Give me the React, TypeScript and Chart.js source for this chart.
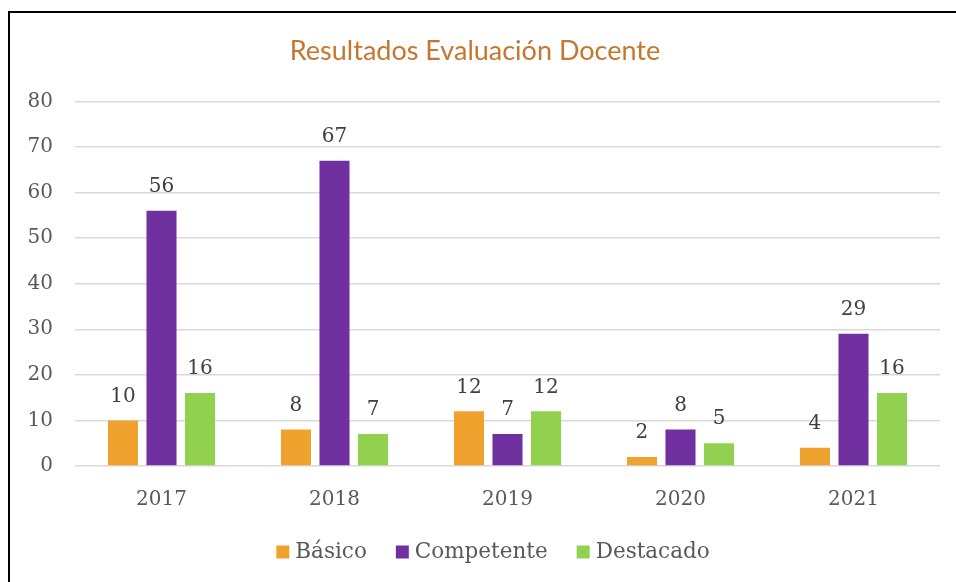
import React, { useEffect, useRef } from "react";
import { Chart, registerables } from "chart.js";

Chart.register(...registerables);

const categories = ["2017", "2018", "2019", "2020", "2021"];
const basico = [10, 8, 12, 2, 4];
const competente = [56, 67, 7, 8, 29];
const destacado = [16, 7, 12, 5, 16];
const seriesNames = ["Básico", "Competente", "Destacado"];
const seriesColors = ["#F0A22E", "#7030A0", "#92D050"];
const titleText = "Resultados Evaluación Docente";

const SERIF = "'DejaVu Serif', 'Liberation Serif', serif";
const FS = 20;

const valueLabels = {
  id: "valueLabels",
  afterDatasetsDraw(chart: any) {
    const ctx = chart.ctx;
    ctx.save();
    ctx.font = `${FS}px ${SERIF}`;
    ctx.fillStyle = "#404040";
    ctx.textAlign = "center";
    ctx.textBaseline = "middle";
    chart.data.datasets.forEach((ds: any, i: number) => {
      const meta = chart.getDatasetMeta(i);
      meta.data.forEach((el: any, j: number) => {
        ctx.fillText(String(ds.data[j]), el.x, el.y - 24);
      });
    });
    ctx.restore();
  },
};

const bottomLegend = {
  id: "bottomLegend",
  afterDraw(chart: any) {
    const ctx = chart.ctx;
    ctx.save();
    ctx.font = `21.5px ${SERIF}`;
    ctx.textBaseline = "middle";
    ctx.textAlign = "left";
    const box = 13;
    const gapBoxText = 6;
    const gapItems = 29;
    const items = chart.data.datasets.map((ds: any) => ({
      label: ds.label,
      color: ds.backgroundColor,
      w: ctx.measureText(ds.label).width,
    }));
    const total =
      items.reduce((s: number, it: any) => s + box + gapBoxText + it.w, 0) +
      gapItems * (items.length - 1);
    let x = chart.width / 2 + 10 - total / 2;
    const y = chart.height - 30;
    items.forEach((it: any) => {
      ctx.fillStyle = it.color;
      ctx.fillRect(x, y - box / 2, box, box);
      x += box + gapBoxText;
      ctx.fillStyle = "#595959";
      ctx.fillText(it.label, x, y);
      x += it.w + gapItems;
    });
    ctx.restore();
  },
};

export default function App() {
  const ref = useRef<HTMLCanvasElement | null>(null);
  useEffect(() => {
    if (!ref.current) return;
    const data = [basico, competente, destacado];
    const chart = new Chart(ref.current, {
      type: "bar",
      data: {
        labels: categories,
        datasets: seriesNames.map((n, i) => ({
          label: n,
          data: data[i],
          backgroundColor: seriesColors[i],
          borderWidth: 0,
          barPercentage: 0.78,
          categoryPercentage: 0.668,
        })),
      },
      options: {
        animation: false,
        responsive: false,
        maintainAspectRatio: false,
        layout: { padding: { top: 22, right: 16, bottom: 56, left: 0 } },
        plugins: {
          title: {
            display: true,
            text: titleText,
            color: "#C5772F",
            font: { family: "Lato", size: 27, weight: "normal" as any },
            padding: { top: 0, bottom: 34 },
          },
          legend: { display: false },
          tooltip: { enabled: false },
        },
        scales: {
          x: {
            grid: { display: false },
            border: { display: false },
            ticks: { color: "#595959", font: { family: SERIF, size: FS }, padding: 14 },
          },
          y: {
            min: 0,
            max: 80,
            ticks: { stepSize: 10, color: "#595959", font: { family: SERIF, size: FS }, padding: 22 },
            grid: { color: "#D9D9D9", lineWidth: 1.5, drawTicks: false },
            border: { display: false },
            afterFit(scale: any) {
              scale.width = 65;
            },
          },
        },
      },
      plugins: [valueLabels, bottomLegend],
    });
    return () => chart.destroy();
  }, []);
  return (
    <div
      style={{
        position: "fixed",
        left: 8,
        top: 11,
        width: 948,
        height: 571,
        borderLeft: "2px solid #000",
        borderTop: "2px solid #000",
        boxSizing: "border-box",
        background: "#fff",
      }}
    >
      <canvas ref={ref} width={946} height={569} style={{ display: "block" }} />
    </div>
  );
}
